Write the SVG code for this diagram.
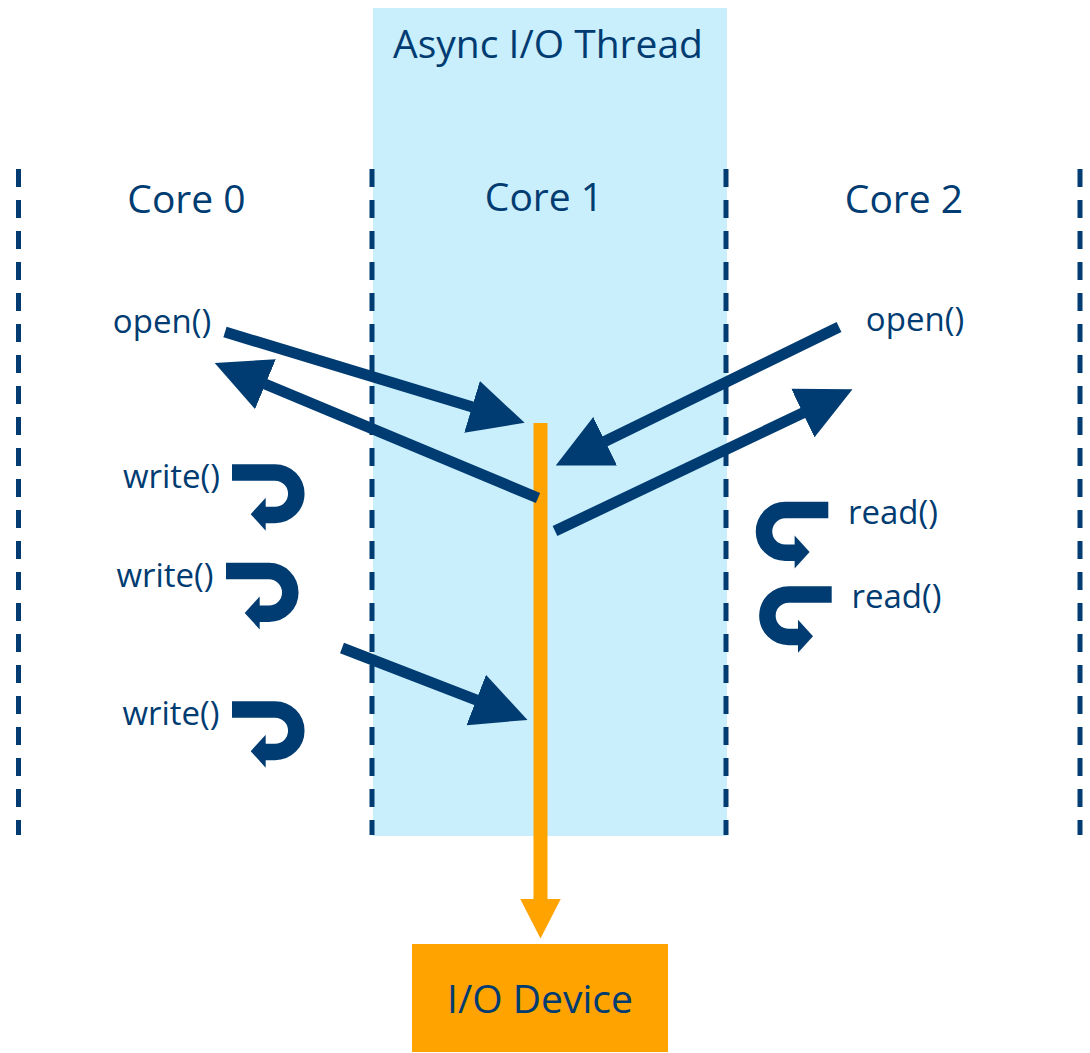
<svg xmlns="http://www.w3.org/2000/svg" width="1090" height="1053" viewBox="0 0 1090 1053">
  <style>
    .t { font-family: "Open Sans", "Noto Sans", sans-serif; fill: #003C71; text-anchor: middle; }
    .core { font-size: 39px; }
    .fn { font-size: 33px; }
    .dash { stroke: #003C71; stroke-width: 5; stroke-dasharray: 18 13; fill: none; }
    .arr { stroke: #003C71; stroke-width: 11; fill: none; marker-end: url(#navyHead); }
    .uturn path { stroke: #003C71; stroke-width: 16.5; fill: none; }
    .uturn polygon { fill: #003C71; }
  </style>
  <defs>
    <marker id="navyHead" markerUnits="userSpaceOnUse" markerWidth="55" markerHeight="54" viewBox="0 0 55 54" refX="0.5" refY="27" orient="auto">
      <path d="M0,0 L55,27 L0,54 Z" fill="#003C71"/>
    </marker>
    <marker id="orangeHead" markerUnits="userSpaceOnUse" markerWidth="40" markerHeight="41" viewBox="0 0 40 41" refX="0.5" refY="20.5" orient="auto">
      <path d="M0,0 L40,20.5 L0,41 Z" fill="#FFA300"/>
    </marker>
    <g id="uturn" class="uturn">
      <path d="M0,8.4 H43 A21.3,21.3 0 0 1 43,51 H33"/>
      <polygon points="33.7,33.7 33.7,66.7 18.7,50.2"/>
    </g>
  </defs>

  <rect width="1090" height="1053" fill="#FFFFFF"/>

  <g id="async-thread">
    <rect x="373" y="8" width="354" height="828" fill="#C9EEFC"/>
    <text class="t" x="548" y="58" font-size="39">Async I/O Thread</text>
  </g>

  <g id="core-dividers">
    <line class="dash" x1="18.5" y1="169" x2="18.5" y2="835"/>
    <line class="dash" x1="372" y1="169" x2="372" y2="835"/>
    <line class="dash" x1="726" y1="169" x2="726" y2="835"/>
    <line class="dash" x1="1080" y1="169" x2="1080" y2="835"/>
  </g>

  <g id="core0">
    <text class="t core" x="186.5" y="213">Core 0</text>
    <text class="t fn" x="162" y="333">open()</text>
    <text class="t fn" x="171.5" y="488">write()</text>
    <use href="#uturn" x="232" y="464"/>
    <text class="t fn" x="165" y="587">write()</text>
    <use href="#uturn" x="226" y="562.7"/>
    <text class="t fn" x="171" y="725">write()</text>
    <use href="#uturn" x="232" y="701"/>
  </g>

  <g id="core1">
    <text class="t core" x="544" y="211">Core 1</text>
  </g>

  <g id="core2">
    <text class="t core" x="904" y="213">Core 2</text>
    <text class="t fn" x="915" y="331">open()</text>
    <text class="t fn" x="893" y="524">read()</text>
    <use href="#uturn" transform="translate(828.3,501.7) scale(-1,1)"/>
    <text class="t fn" x="896.4" y="608">read()</text>
    <use href="#uturn" transform="translate(831.7,586) scale(-1,1)"/>
  </g>

  <g id="io-device">
    <rect x="412" y="944" width="256" height="108" fill="#FFA300"/>
    <text class="t" x="540" y="1013" font-size="39">I/O Device</text>
  </g>

  <g id="connectors">
    <line stroke="#FFA300" stroke-width="14" x1="540.5" y1="423" x2="540.5" y2="899" marker-end="url(#orangeHead)"/>
    <line class="arr" x1="225" y1="332" x2="472.5" y2="407"/>
    <line class="arr" x1="538" y1="498" x2="265" y2="384"/>
    <line class="arr" x1="839" y1="327" x2="604.7" y2="441.5"/>
    <line class="arr" x1="555" y1="531" x2="803.3" y2="412.8"/>
    <line class="arr" x1="342" y1="648" x2="476.7" y2="700.2"/>
  </g>
</svg>
